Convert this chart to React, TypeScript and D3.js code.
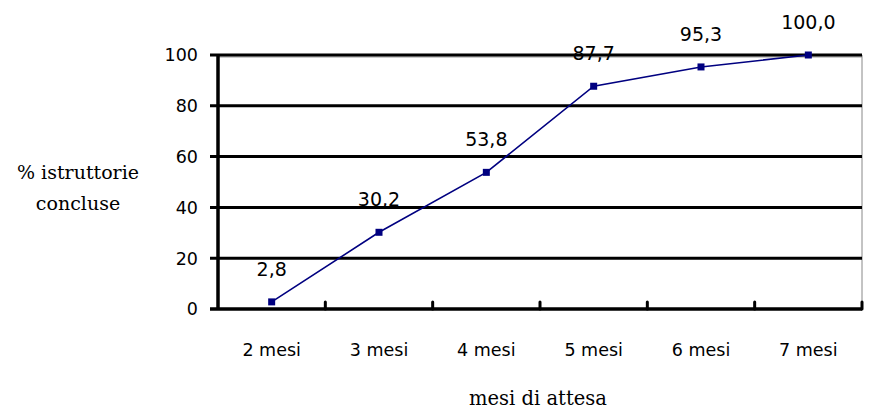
import React, { useEffect, useRef } from 'react';
import * as d3 from 'd3';

// dati
const categories = ['2 mesi', '3 mesi', '4 mesi', '5 mesi', '6 mesi', '7 mesi'];
const values = [2.8, 30.2, 53.8, 87.7, 95.3, 100.0];
const yTicks = [0, 20, 40, 60, 80, 100];

const width = 870;
const height = 412;
const margin = { top: 55, right: 8, bottom: 103, left: 218 };

const App: React.FC = () => {
  const svgRef = useRef<SVGSVGElement>(null);

  useEffect(() => {
    if (!svgRef.current) return;
    const svg = d3.select(svgRef.current);
    svg.selectAll('*').remove();

    const x = d3.scaleBand<string>()
      .domain(categories)
      .range([margin.left, width - margin.right])
      .padding(0);

    const y = d3.scaleLinear()
      .domain([0, 100])
      .range([height - margin.bottom, margin.top]);

    const numFont = '"DejaVu Sans", Verdana, sans-serif';
    const serifFont = '"DejaVu Serif", "Liberation Serif", serif';

    // bordo destro grigio sottile
    svg.append('line')
      .attr('x1', width - margin.right).attr('x2', width - margin.right)
      .attr('y1', y(100)).attr('y2', y(0))
      .attr('stroke', '#888').attr('stroke-width', 1);
    svg.append('line')
      .attr('x1', margin.left).attr('x2', width - margin.right)
      .attr('y1', y(100) + 2).attr('y2', y(100) + 2)
      .attr('stroke', '#999').attr('stroke-width', 1);

    // griglia orizzontale
    svg.append('g')
      .selectAll('line')
      .data(yTicks.filter(t => t > 0))
      .join('line')
      .attr('x1', margin.left - 8)
      .attr('x2', width - margin.right)
      .attr('y1', d => y(d))
      .attr('y2', d => y(d))
      .attr('stroke', '#000')
      .attr('stroke-width', 3);

    // asse y
    svg.append('line')
      .attr('x1', margin.left).attr('x2', margin.left)
      .attr('y1', y(100)).attr('y2', y(0))
      .attr('stroke', '#000').attr('stroke-width', 3.5);

    // asse x
    svg.append('line')
      .attr('x1', margin.left - 8).attr('x2', width - margin.right)
      .attr('y1', y(0)).attr('y2', y(0))
      .attr('stroke', '#000').attr('stroke-width', 3.5);

    // tacche asse x
    const bounds = categories.map(c => x(c)! + x.bandwidth());
    svg.append('g')
      .selectAll('line')
      .data(bounds)
      .join('line')
      .attr('x1', d => d).attr('x2', d => d)
      .attr('y1', y(0)).attr('y2', y(0) - 7)
      .attr('stroke', '#000').attr('stroke-width', 3)
      .attr('stroke-linecap', 'round');

    // etichette asse y
    svg.append('g')
      .selectAll('text')
      .data(yTicks)
      .join('text')
      .attr('x', margin.left - 20)
      .attr('y', d => y(d))
      .attr('dy', '0.36em')
      .attr('text-anchor', 'end')
      .style('font-family', numFont)
      .style('font-size', '17.5px')
      .attr('fill', '#000')
      .text(d => d);

    // etichette asse x
    svg.append('g')
      .selectAll('text')
      .data(categories)
      .join('text')
      .attr('x', d => x(d)! + x.bandwidth() / 2)
      .attr('y', y(0) + 41)
      .attr('dy', '0.36em')
      .attr('text-anchor', 'middle')
      .style('font-family', numFont)
      .style('font-size', '17.5px')
      .attr('fill', '#000')
      .text(d => d);

    // linea
    const line = d3.line<number>()
      .x((d, i) => x(categories[i])! + x.bandwidth() / 2)
      .y(d => y(d));

    svg.append('path')
      .datum(values)
      .attr('d', line)
      .attr('fill', 'none')
      .attr('stroke', '#000080')
      .attr('stroke-width', 1.6);

    // marcatori
    svg.append('g')
      .selectAll('rect')
      .data(values)
      .join('rect')
      .attr('x', (d, i) => x(categories[i])! + x.bandwidth() / 2 - 3.5)
      .attr('y', d => y(d) - 3.5)
      .attr('width', 7)
      .attr('height', 7)
      .attr('fill', '#000080');

    // etichette valori
    svg.append('g')
      .selectAll('text')
      .data(values)
      .join('text')
      .attr('x', (d, i) => x(categories[i])! + x.bandwidth() / 2)
      .attr('y', d => y(d) - 33)
      .attr('dy', '0.36em')
      .attr('text-anchor', 'middle')
      .style('font-family', numFont)
      .style('font-size', '19px')
      .attr('fill', '#000')
      .text(d => d.toFixed(1).replace('.', ','));

    // titoli assi
    const yTitle = svg.append('text')
      .attr('text-anchor', 'middle')
      .style('font-family', serifFont)
      .style('font-size', '19px')
      .attr('fill', '#000');
    yTitle.append('tspan').attr('x', 78).attr('y', 172).attr('dy', '0.36em').text('% istruttorie');
    yTitle.append('tspan').attr('x', 78).attr('y', 203).attr('dy', '0.36em').text('concluse');

    svg.append('text')
      .attr('x', 538)
      .attr('y', 398)
      .attr('dy', '0.36em')
      .attr('text-anchor', 'middle')
      .style('font-family', serifFont)
      .style('font-size', '19.5px')
      .attr('fill', '#000')
      .text('mesi di attesa');
  }, []);

  return (
    <div style={{ position: 'absolute', left: 0, top: 0, width, height, background: '#fff' }}>
      <svg ref={svgRef} width={width} height={height} viewBox={`0 0 ${width} ${height}`} />
    </div>
  );
};

export default App;
